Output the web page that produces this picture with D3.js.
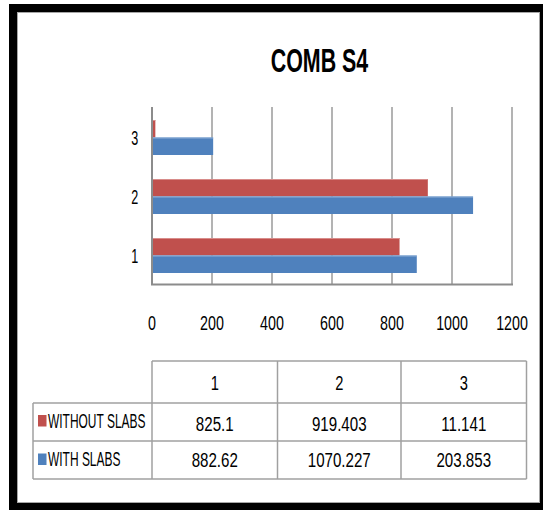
<!DOCTYPE html>
<html>
<head>
<meta charset="utf-8">
<script src="https://cdn.jsdelivr.net/npm/d3@7"></script>
<style>
  html, body { margin: 0; padding: 0; background: #fff; }
  svg { display: block; }
  text { font-family: "Liberation Sans", Arial, sans-serif; fill: #000; }
</style>
</head>
<body>
<svg id="chart" width="543" height="510"></svg>
<script>
// Chart data
const title = "COMB S4";
const categories = ["1", "2", "3"];
const seriesNames = ["WITHOUT SLABS", "WITH SLABS"];
const withoutSlabs = [825.1, 919.403, 11.141];
const withSlabs = [882.62, 1070.227, 203.853];
const tableText = [["825.1", "919.403", "11.141"], ["882.62", "1070.227", "203.853"]];
const xTicks = [0, 200, 400, 600, 800, 1000, 1200];
const seriesColors = ["#C0504D", "#4F81BD"];

const series = [withoutSlabs, withSlabs];
const svg = d3.select("#chart");

// Condensed text helper: horizontal squeeze via scale transform
function label(parent, x, y, txt, o) {
  return parent.append("text")
    .attr("transform", `translate(${x},${y}) scale(${o.sx || 1},1)`)
    .attr("text-anchor", o.anchor || "middle")
    .attr("font-size", o.size)
    .attr("font-weight", o.weight || "normal")
    .text(txt);
}

// Outer frame
svg.append("rect").attr("x", 9).attr("y", 4).attr("width", 534).attr("height", 506).attr("fill", "#000");
svg.append("rect").attr("x", 17.5).attr("y", 12.5).attr("width", 522).attr("height", 490)
  .attr("fill", "#fff").attr("stroke", "#a6a6a6").attr("stroke-width", 1);

// Title
label(svg, 319.5, 72, title, { size: 34, sx: 0.63, weight: "bold" });

// Scales
const x = d3.scaleLinear().domain([0, 1200]).range([152, 512]);
const y = d3.scaleBand().domain(categories.slice().reverse()).range([108, 285]).paddingInner(0).paddingOuter(0);
const yInner = d3.scaleBand().domain(seriesNames).range([0, 35]);

// Gridlines
const grid = svg.append("g");
grid.selectAll("line").data(xTicks.filter(d => d > 0)).join("line")
  .attr("x1", d => x(d)).attr("x2", d => x(d))
  .attr("y1", 107).attr("y2", 285)
  .attr("stroke", "#a0a0a0").attr("stroke-width", 1.6);

// Bars
const barOffset = (y.bandwidth() - 35) / 2;
seriesNames.forEach((name, si) => {
  const g = svg.append("g");
  g.selectAll("rect").data(categories).join("rect")
    .attr("x", x(0))
    .attr("y", c => y(c) + barOffset + yInner(name))
    .attr("width", (c, i) => x(series[si][i]) - x(0))
    .attr("height", yInner.bandwidth())
    .attr("fill", seriesColors[si]);
  // light top edge on each bar
  g.selectAll("line").data(categories).join("line")
    .attr("x1", x(0))
    .attr("x2", (c, i) => x(series[si][i]))
    .attr("y1", c => y(c) + barOffset + yInner(name) + 0.5)
    .attr("y2", c => y(c) + barOffset + yInner(name) + 0.5)
    .attr("stroke", si === 0 ? "#d88c8a" : "#8fb0d8").attr("stroke-width", 1);
});

// Axes lines
svg.append("line").attr("x1", x(0)).attr("x2", x(0)).attr("y1", 107).attr("y2", 285)
  .attr("stroke", "#8c8c8c").attr("stroke-width", 2);
svg.append("line").attr("x1", x(0) - 1).attr("x2", x(1200) + 1).attr("y1", 284.5).attr("y2", 284.5)
  .attr("stroke", "#8c8c8c").attr("stroke-width", 2);

// Category labels
categories.forEach(c => {
  label(svg, 134.7, y(c) + y.bandwidth() / 2 + 7.5, c, { size: 21, sx: 0.6 });
});

// X tick labels
xTicks.forEach(t => {
  label(svg, x(t), 330, String(t), { size: 21, sx: 0.68 });
});

// Data table
const colEdges = [152, 277.5, 401, 526.5];
const rowEdges = [361, 403, 441, 479];
const legendLeft = 33;
const tbl = svg.append("g").attr("stroke", "#a0a0a0").attr("stroke-width", 1.5);
tbl.append("line").attr("x1", colEdges[0]).attr("x2", colEdges[3]).attr("y1", rowEdges[0]).attr("y2", rowEdges[0]);
[1, 2, 3].forEach(r => {
  tbl.append("line").attr("x1", legendLeft).attr("x2", colEdges[3]).attr("y1", rowEdges[r]).attr("y2", rowEdges[r]);
});
colEdges.forEach(cx => {
  tbl.append("line").attr("x1", cx).attr("x2", cx).attr("y1", rowEdges[0]).attr("y2", rowEdges[3]);
});
tbl.append("line").attr("x1", legendLeft).attr("x2", legendLeft).attr("y1", rowEdges[1]).attr("y2", rowEdges[3]);

// Table header
categories.forEach((c, i) => {
  label(svg, (colEdges[i] + colEdges[i + 1]) / 2, 390, c, { size: 21, sx: 0.7 });
});

// Table rows with legend keys
seriesNames.forEach((name, si) => {
  const base = si === 0 ? 427.5 : 466;
  svg.append("rect").attr("x", 38).attr("y", base - 12.5).attr("width", 8.5).attr("height", 11.5)
    .attr("fill", seriesColors[si]);
  label(svg, 48, base, name, { size: 21, sx: 0.57, anchor: "start" });
  tableText[si].forEach((t, i) => {
    label(svg, (colEdges[i] + colEdges[i + 1]) / 2, si === 0 ? 431 : 467, t, { size: 21, sx: 0.72 });
  });
});
</script>
</body>
</html>
